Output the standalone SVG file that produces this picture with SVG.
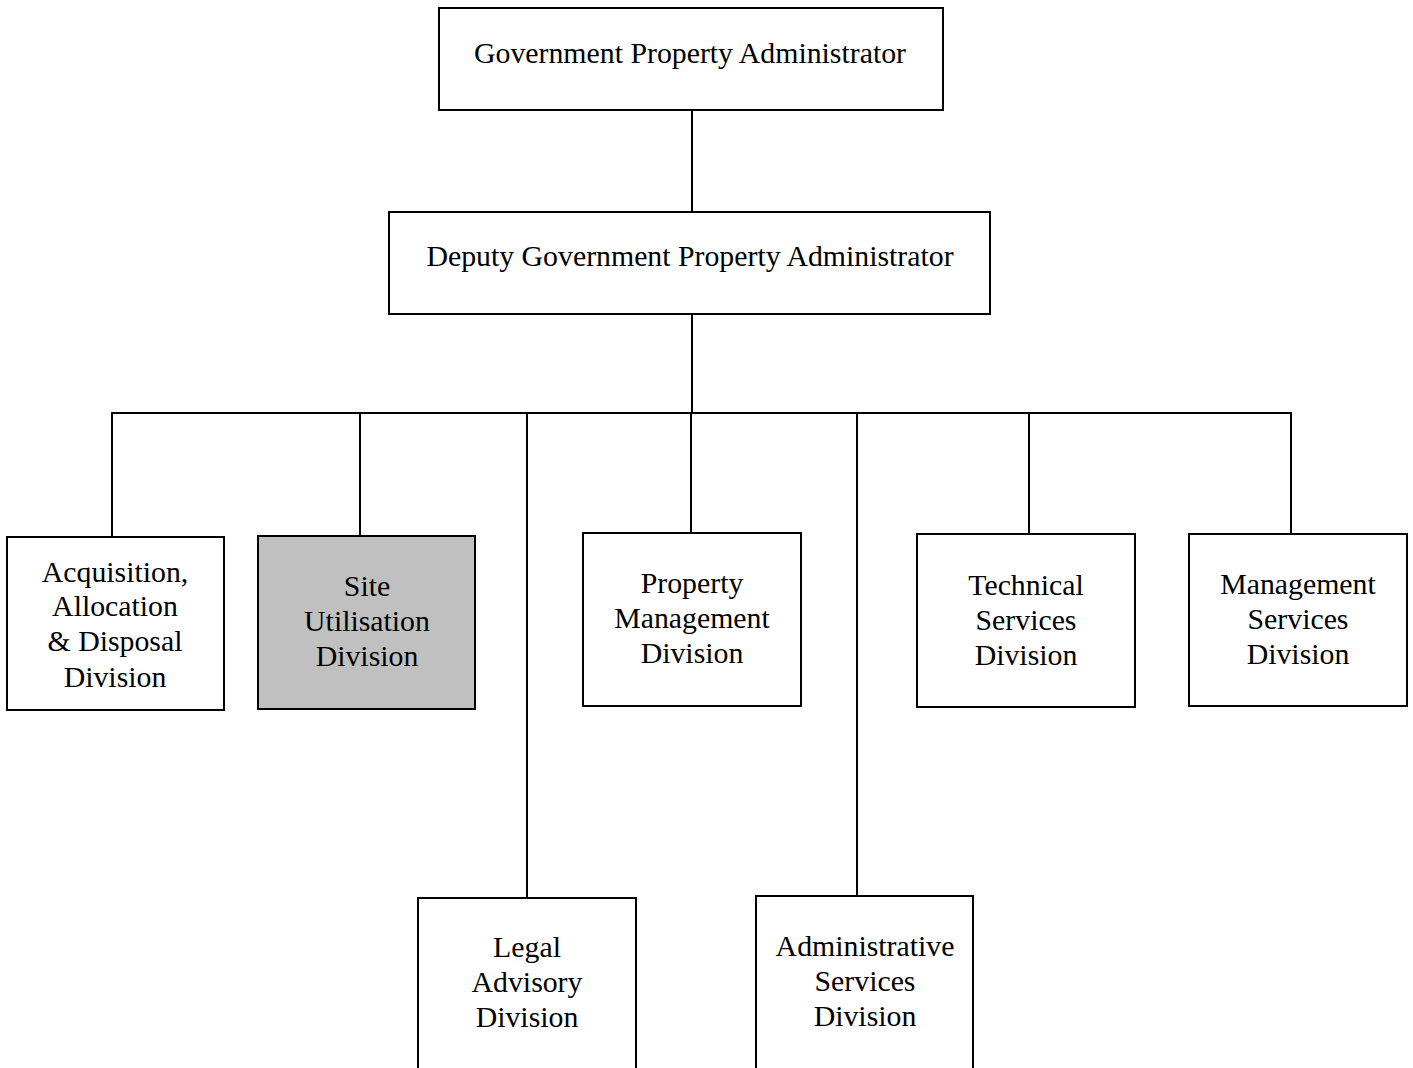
<svg xmlns="http://www.w3.org/2000/svg" width="1413" height="1068" viewBox="0 0 1413 1068">
<style>
.box{fill:#ffffff;stroke:#000000;stroke-width:2}
.grey{fill:#c0c0c0}
.t{font-family:"Liberation Serif","Times New Roman",serif;font-size:29.8px;fill:#000000;text-anchor:middle}
.c{fill:none;stroke:#000000;stroke-width:2}
</style>
<rect width="1413" height="1068" fill="#ffffff"/>
<g id="connectors">
<line class="c" x1="692" y1="110" x2="692" y2="212"/>
<line class="c" x1="692" y1="314" x2="692" y2="413"/>
<line class="c" x1="111" y1="413" x2="1292" y2="413"/>
<line class="c" x1="112" y1="413" x2="112" y2="537"/>
<line class="c" x1="360" y1="413" x2="360" y2="536"/>
<line class="c" x1="527" y1="413" x2="527" y2="898"/>
<line class="c" x1="691" y1="413" x2="691" y2="533"/>
<line class="c" x1="857" y1="413" x2="857" y2="896"/>
<line class="c" x1="1029" y1="413" x2="1029" y2="534"/>
<line class="c" x1="1291" y1="413" x2="1291" y2="534"/>
</g>
<g id="gpa">
<rect class="box" x="439" y="8" width="504" height="102"/>
<text class="t" x="690" y="63">Government Property Administrator</text>
</g>
<g id="dgpa">
<rect class="box" x="389" y="212" width="601" height="102"/>
<text class="t" x="690" y="266">Deputy Government Property Administrator</text>
</g>
<g id="acq">
<rect class="box" x="7" y="537" width="217" height="173"/>
<text class="t" x="115" y="582">Acquisition,</text>
<text class="t" x="115" y="616">Allocation</text>
<text class="t" x="115" y="651">&amp; Disposal</text>
<text class="t" x="115" y="687">Division</text>
</g>
<g id="site">
<rect class="box grey" x="258" y="536" width="217" height="173"/>
<text class="t" x="367" y="596">Site</text>
<text class="t" x="367" y="631">Utilisation</text>
<text class="t" x="367" y="666">Division</text>
</g>
<g id="property">
<rect class="box" x="583" y="533" width="218" height="173"/>
<text class="t" x="692" y="593">Property</text>
<text class="t" x="692" y="628">Management</text>
<text class="t" x="692" y="663">Division</text>
</g>
<g id="technical">
<rect class="box" x="917" y="534" width="218" height="173"/>
<text class="t" x="1026" y="595">Technical</text>
<text class="t" x="1026" y="630">Services</text>
<text class="t" x="1026" y="665">Division</text>
</g>
<g id="mgmt">
<rect class="box" x="1189" y="534" width="218" height="172"/>
<text class="t" x="1298" y="594">Management</text>
<text class="t" x="1298" y="629">Services</text>
<text class="t" x="1298" y="664">Division</text>
</g>
<g id="legal">
<rect class="box" x="418" y="898" width="218" height="200"/>
<text class="t" x="527" y="957">Legal</text>
<text class="t" x="527" y="992">Advisory</text>
<text class="t" x="527" y="1027">Division</text>
</g>
<g id="admin">
<rect class="box" x="756" y="896" width="217" height="200"/>
<text class="t" x="865" y="956">Administrative</text>
<text class="t" x="865" y="991">Services</text>
<text class="t" x="865" y="1026">Division</text>
</g>
</svg>
